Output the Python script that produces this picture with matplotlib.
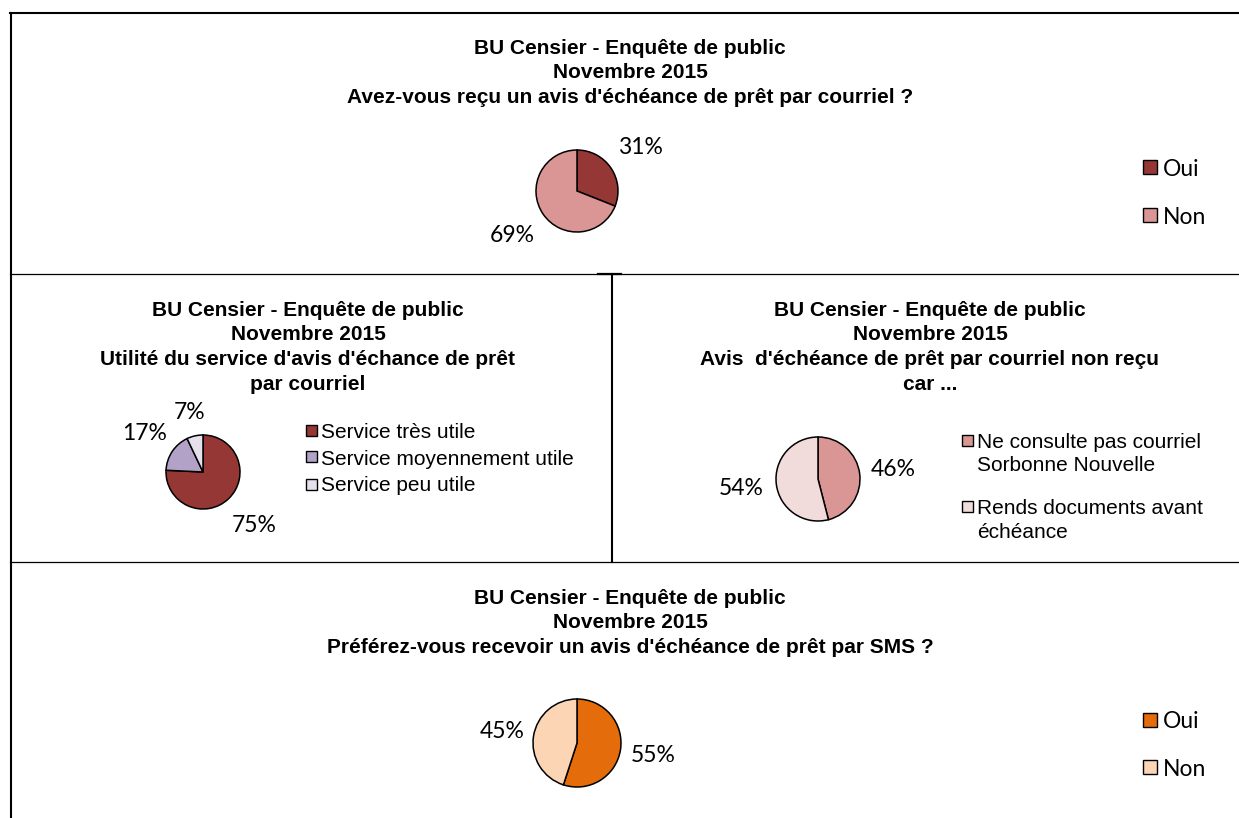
import numpy as np
import matplotlib
matplotlib.use("Agg")
import matplotlib.pyplot as plt
from matplotlib.patches import Rectangle


# Survey data (percentages)

recu_labels = ["Oui", "Non"]
recu_values = [31, 69]

utilite_labels = ["Service très utile", "Service moyennement utile", "Service peu utile"]
utilite_values = [75, 17, 7]

raison_labels = ["Ne consulte pas courriel\nSorbonne Nouvelle", "Rends documents avant\néchéance"]
raison_values = [46, 54]

sms_labels = ["Oui", "Non"]
sms_values = [55, 45]

entete = ["BU Censier - Enquête de public", "Novembre 2015"]
questions = ["Avez-vous reçu un avis d'échéance de prêt par courriel ?",
             "Utilité du service d'avis d'échance de prêt\npar courriel",
             "Avis  d'échéance de prêt par courriel non reçu\ncar ...",
             "Préférez-vous recevoir un avis d'échéance de prêt par SMS ?"]


W, H = 1239, 818
fig = plt.figure(figsize=(W / 100, H / 100), dpi=100)
fig.patch.set_facecolor("white")

title_font = ["Liberation Sans", "DejaVu Sans"]
calibri_like = ["Lato", "DejaVu Sans"]


def fx(x):
    return x / W


def fy(y):
    return 1 - y / H


def hline(x0, x1, y, lw):
    fig.add_artist(plt.Line2D([fx(x0), fx(x1)], [fy(y), fy(y)], color="black",
                              lw=lw, transform=fig.transFigure))


def vline(x, y0, y1, lw):
    fig.add_artist(plt.Line2D([fx(x), fx(x)], [fy(y0), fy(y1)], color="black",
                              lw=lw, transform=fig.transFigure))


def title(xc, y_first, text, step=24.5):
    lines = entete + text.split("\n")
    for i, line in enumerate(lines):
        fig.text(fx(xc), fy(y_first + i * step), line, ha="center", va="baseline",
                 fontsize=15, fontweight="bold", family=title_font)


def pie(cx, cy, r, values, colors, dists):
    ax = fig.add_axes([fx(cx - r), fy(cy + r), 2 * r / W, 2 * r / H])
    wedges, texts = ax.pie(values, colors=colors, startangle=90, counterclock=False,
                           labels=[f"{v}%" for v in values],
                           wedgeprops=dict(edgecolor="black", linewidth=1.1),
                           textprops=dict(fontsize=16.5, family=calibri_like))
    # put each label along the middle of its wedge
    for w, t, d in zip(wedges, texts, dists):
        ang = np.deg2rad((w.theta1 + w.theta2) / 2)
        t.set_position((d * np.cos(ang), d * np.sin(ang)))
        t.set_ha("center")
        t.set_va("center")
    ax.set_xlim(-1, 1)
    ax.set_ylim(-1, 1)
    ax.set_aspect("equal")
    ax.axis("off")
    return wedges


def legend(x, ys, labels, colors, size, fontsize, family, gap=4, step=24):
    for y, lab, c in zip(ys, labels, colors):
        fig.add_artist(Rectangle((fx(x), fy(y + size / 2)), size / W, size / H,
                                 facecolor=c, edgecolor="black", lw=1.0,
                                 transform=fig.transFigure))
        for k, line in enumerate(lab.split("\n")):
            fig.text(fx(x + size + gap), fy(y + k * step), line, ha="left",
                     va="center_baseline", fontsize=fontsize, family=family)


# table borders
hline(10, 1239, 13, 1.5)
vline(11, 13, 818, 1.5)
hline(10, 1238, 274, 0.9)
hline(598, 621, 274, 1.6)
vline(612, 274, 562, 1.5)
hline(10, 1238, 562, 0.9)

# 1. courriel recu
c1 = ["#953735", "#D99694"]
title(630, 54, questions[0])
pie(577, 191, 41, recu_values, c1, [1.87, 1.92])
legend(1143, [167, 215], recu_labels, c1, 14, 16.5, calibri_like, gap=6)

# 2. utilite
c2 = ["#953735", "#B3A2C7", "#E6E0EC"]
title(308, 316, questions[1])
pie(203, 472, 37, utilite_values, c2, [2.0, 1.9, 1.65])
legend(306, [430, 457, 484], utilite_labels, c2, 11, 15, title_font)

# 3. raison non recu
c3 = ["#D99694", "#F2DCDB"]
title(930, 316, questions[2])
pie(818, 479, 42, raison_values, c3, [1.8, 1.85])
legend(962, [440, 506], raison_labels, c3, 11, 15, title_font)

# 4. SMS
c4 = ["#E46C0A", "#FCD5B5"]
title(630, 604, questions[3])
pie(577, 743, 44, sms_values, c4, [1.76, 1.73])
legend(1143, [720, 767], sms_labels, c4, 14, 16.5, calibri_like, gap=6)

fig.savefig("out.png", dpi=100)
